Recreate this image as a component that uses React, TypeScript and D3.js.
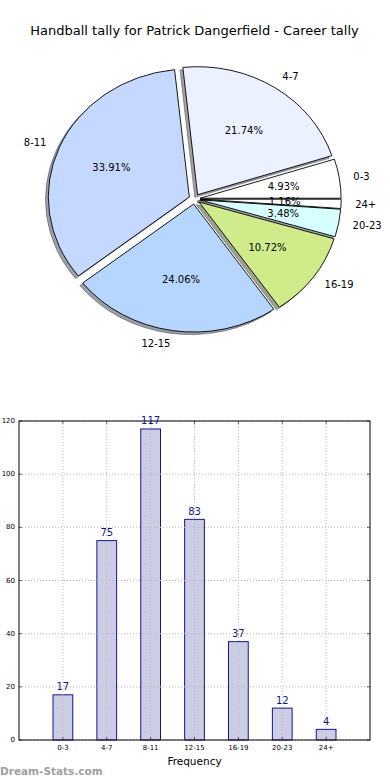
import React from 'react';
import * as d3 from 'd3';

const categories = ['0-3', '4-7', '8-11', '12-15', '16-19', '20-23', '24+'];
const tally = [17, 75, 117, 83, 37, 12, 4];
const sliceColors = ['#ffffff', '#ebf1ff', '#c5d8ff', '#b6d6ff', '#d0eb8a', '#d8ffff', '#ffffff'];
const yTicks = [0, 20, 40, 60, 80, 100, 120];
const title = 'Handball tally for Patrick Dangerfield - Career tally';
const xLabel = 'Frequency';
const watermark = 'Dream-Stats.com';

const W = 390;
const H = 780;
const FONT = "'DejaVu Sans', sans-serif";

function darken(c: string) {
  const rgb = d3.rgb(c);
  return d3.rgb(rgb.r * 0.3, rgb.g * 0.3, rgb.b * 0.3).toString();
}

export default function App() {
  // Pie geometry (elliptical, like a non-equal-aspect matplotlib pie)
  const cx = 194.5, cy = 199, rx = 141, ry = 128, explode = 0.04;
  const total = d3.sum(tally);
  const pie = d3.pie<number>().sort(null).startAngle(Math.PI / 2).endAngle(Math.PI / 2 - 2 * Math.PI);
  const arcs = pie(tally);
  const arc = d3.arc<d3.PieArcDatum<number>>().innerRadius(0).outerRadius(100);
  const sx = rx / 100, sy = ry / 100;

  const slices = arcs.map((a, i) => {
    const mid = (a.startAngle + a.endAngle) / 2;
    const ux = Math.sin(mid), uy = -Math.cos(mid);
    const ox = cx + explode * rx * ux;
    const oy = cy + explode * ry * uy;
    return { a, i, mid, ux, uy, ox, oy };
  });

  // Bar chart geometry
  const x = d3.scaleLinear().domain([-1, 7]).range([19, 370]);
  const y = d3.scaleLinear().domain([0, 120]).range([740, 421]);
  const barW = 0.45;
  const [x0, x1] = x.range();
  const [yb, yt] = y.range();

  return (
    <svg width={W} height={H} style={{ position: 'absolute', left: 0, top: 0, background: '#fff' }} fontFamily={FONT}>
      <rect x={0} y={0} width={W} height={H} fill="#fff" />
      <text x={194.5} y={30} fontSize={13} textAnchor="middle" dominantBaseline="central" fill="#000">{title}</text>

      {/* shadows */}
      {slices.map(s => (
        <path key={'sh' + s.i} d={arc(s.a) || ''}
          transform={`translate(${s.ox - 0.02 * rx},${s.oy + 0.02 * ry}) scale(${sx},${sy})`}
          fill={darken(sliceColors[s.i])} fillOpacity={0.5} stroke={darken(sliceColors[s.i])} strokeOpacity={0.5}
          strokeWidth={1} vectorEffect="non-scaling-stroke" />
      ))}
      {/* wedges */}
      {slices.map(s => (
        <path key={'w' + s.i} d={arc(s.a) || ''}
          transform={`translate(${s.ox},${s.oy}) scale(${sx},${sy})`}
          fill={sliceColors[s.i]} stroke="#000" strokeWidth={0.9} vectorEffect="non-scaling-stroke" />
      ))}
      {/* category labels */}
      {slices.map(s => (
        <text key={'l' + s.i} x={s.ox + 1.1 * rx * s.ux} y={s.oy + 1.1 * ry * s.uy}
          fontSize={10} dominantBaseline="central" textAnchor={s.ux > 0 ? 'start' : 'end'} fill="#000">
          {categories[s.i]}
        </text>
      ))}
      {/* percentage labels */}
      {slices.map(s => (
        <text key={'p' + s.i} x={s.ox + 0.6 * rx * s.ux} y={s.oy + 0.6 * ry * s.uy}
          fontSize={10} dominantBaseline="central" textAnchor="middle" fill="#000">
          {(tally[s.i] / total * 100).toFixed(2) + '%'}
        </text>
      ))}

      {/* bar chart */}
      {tally.map((v, i) => (
        <rect key={'b' + i} x={x(i - barW / 2)} y={y(v)} width={x(barW) - x(0)} height={y(0) - y(v)}
          fill="#ccccE4" stroke="#15158a" strokeWidth={1} />
      ))}
      {/* grid */}
      {yTicks.map(t => (
        <line key={'gy' + t} x1={x0} x2={x1} y1={y(t)} y2={y(t)} stroke="#b8b8b8" strokeWidth={1} strokeDasharray="1,2" />
      ))}
      {categories.map((c, i) => (
        <line key={'gx' + c} x1={x(i)} x2={x(i)} y1={yb} y2={yt} stroke="#b8b8b8" strokeWidth={1} strokeDasharray="1,2" />
      ))}
      {/* ticks */}
      {yTicks.map(t => (
        <g key={'ty' + t}>
          <line x1={x0} x2={x0 + 3} y1={y(t)} y2={y(t)} stroke="#000" strokeWidth={0.6} />
          <line x1={x1 - 3} x2={x1} y1={y(t)} y2={y(t)} stroke="#000" strokeWidth={0.6} />
          <text x={15} y={y(t)} fontSize={7} textAnchor="end" dominantBaseline="central" fill="#000">{t}</text>
        </g>
      ))}
      {categories.map((c, i) => (
        <g key={'tx' + c}>
          <line x1={x(i)} x2={x(i)} y1={yb} y2={yb - 3} stroke="#000" strokeWidth={0.6} />
          <line x1={x(i)} x2={x(i)} y1={yt} y2={yt + 3} stroke="#000" strokeWidth={0.6} />
          <text x={x(i)} y={748} fontSize={7} textAnchor="middle" dominantBaseline="central" fill="#000">{c}</text>
        </g>
      ))}
      <rect x={x0} y={yt} width={x1 - x0} height={yb - yt} fill="none" stroke="#000" strokeWidth={1} />
      {/* value labels */}
      {tally.map((v, i) => (
        <text key={'v' + i} x={x(i)} y={y(v) - 8} fontSize={10} textAnchor="middle" dominantBaseline="central" fill="#15158a">{v}</text>
      ))}
      <text x={194.5} y={761} fontSize={10.5} textAnchor="middle" dominantBaseline="central" fill="#000">{xLabel}</text>
      <text x={0} y={775} fontSize={10.5} fontWeight="bold" fill="#a0a0a0">{watermark}</text>
    </svg>
  );
}
